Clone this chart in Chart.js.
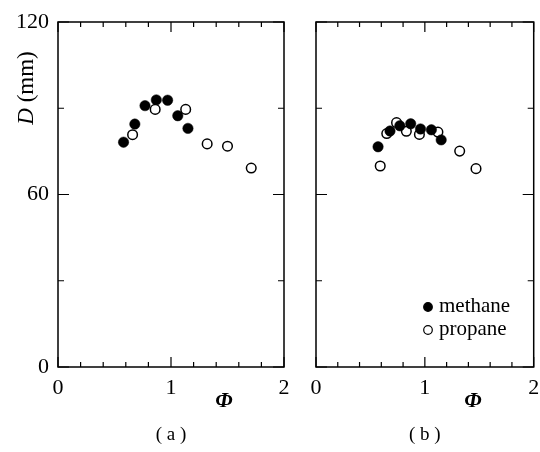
<!DOCTYPE html>
<html>
<head>
<meta charset="utf-8">
<script src="https://cdn.jsdelivr.net/npm/chart.js@4.4.1/dist/chart.umd.min.js"></script>
<style>
body { margin: 0; background: #fff; }
#wrap { position: relative; width: 540px; height: 452px; overflow: hidden; }
canvas { position: absolute; top: 0; }
</style>
</head>
<body>
<div id="wrap">
	<canvas id="chartA" width="300" height="452" style="left:0px"></canvas>
	<canvas id="chartB" width="250" height="452" style="left:290px"></canvas>
</div>
<script>
// panel (a)
var phiMethaneA = [0.58, 0.68, 0.77, 0.87, 0.97, 1.06, 1.15];
var dMethaneA = [78.2, 84.5, 90.9, 92.9, 92.8, 87.4, 83.0];
var phiPropaneA = [0.66, 0.86, 1.13, 1.32, 1.50, 1.71];
var dPropaneA = [80.8, 89.6, 89.6, 77.6, 76.8, 69.2];
// panel (b)
var phiMethaneB = [0.57, 0.68, 0.77, 0.87, 0.96, 1.06, 1.15];
var dMethaneB = [76.6, 82.1, 83.9, 84.6, 82.8, 82.5, 79.0];
var phiPropaneB = [0.59, 0.65, 0.74, 0.83, 0.95, 1.12, 1.32, 1.47];
var dPropaneB = [69.9, 81.2, 85.0, 82.0, 80.9, 81.7, 75.1, 69.0];

var seriesNames = ['methane', 'propane'];
var xTickLabels = ['0', '1', '2'];
var yTickLabels = ['0', '60', '120'];
var panelCaptions = ['( a )', '( b )'];

var serif = "'Liberation Serif', 'Times New Roman', serif";

function toPoints(xs, ys) {
	var pts = [];
	for (var i = 0; i < xs.length; i++) pts.push({ x: xs[i], y: ys[i] });
	return pts;
}

function isWhole(v) {
	return Math.abs(v - Math.round(v)) < 1e-6;
}

function methaneSet(xs, ys, order) {
	return {
		label: seriesNames[0],
		data: toPoints(xs, ys),
		pointStyle: 'circle',
		pointRadius: 5.2,
		backgroundColor: '#000',
		borderColor: '#000',
		borderWidth: 0.5,
		order: order
	};
}
function propaneSet(xs, ys, order) {
	return {
		label: seriesNames[1],
		data: toPoints(xs, ys),
		pointStyle: 'circle',
		pointRadius: 4.8,
		backgroundColor: '#fff',
		borderColor: '#000',
		borderWidth: 1.5,
		order: order
	};
}

// frame + inward ticks on all four sides
var frameTicks = {
	id: 'frameTicks',
	beforeDatasetsDraw: function(chart) {
		var c = chart.ctx, a = chart.chartArea;
		var xs = chart.scales.x, ys = chart.scales.y;
		c.save();
		c.strokeStyle = '#000';
		c.lineWidth = 1.5;
		c.strokeRect(a.left, a.top, a.right - a.left, a.bottom - a.top);
		c.lineWidth = 1.2;
		c.beginPath();
		xs.ticks.forEach(function(t) {
			var px = xs.getPixelForValue(t.value);
			var len = isWhole(t.value) ? 10 : 5;
			c.moveTo(px, a.bottom); c.lineTo(px, a.bottom - len);
			c.moveTo(px, a.top); c.lineTo(px, a.top + len);
		});
		ys.ticks.forEach(function(t) {
			var py = ys.getPixelForValue(t.value);
			var len = (t.value % 60 === 0) ? 11 : 6;
			c.moveTo(a.left, py); c.lineTo(a.left + len, py);
			c.moveTo(a.right, py); c.lineTo(a.right - len, py);
		});
		c.stroke();
		c.restore();
	}
};

// axis titles, captions, legend
var texts = {
	id: 'texts',
	afterDraw: function(chart) {
		var c = chart.ctx, a = chart.chartArea;
		var o = chart.options.plugins.texts;
		c.save();
		c.fillStyle = '#000';
		c.textBaseline = 'middle';
		c.textAlign = 'center';
		// x title
		c.font = 'italic bold 22px ' + serif;
		c.fillText('\u03A6', o.phiX, 401);
		// caption
		c.font = '19px ' + serif;
		c.fillText(o.caption, (a.left + a.right) / 2, 435);
		if (o.yTitle) {
			c.save();
			c.translate(27, 88);
			c.rotate(-Math.PI / 2);
			c.textAlign = 'left';
			c.font = 'italic 23px ' + serif;
			var w1 = c.measureText('D').width;
			c.font = '23px ' + serif;
			var w2 = c.measureText(' (mm)').width;
			var x0 = -(w1 + w2) / 2;
			c.font = 'italic 23px ' + serif;
			c.fillText('D', x0, 0);
			c.font = '23px ' + serif;
			c.fillText(' (mm)', x0 + w1, 0);
			c.restore();
		}
		if (o.legend) {
			var ds = chart.data.datasets;
			for (var i = 0; i < ds.length; i++) {
				var ly = o.legend.y + i * 23;
				c.beginPath();
				c.arc(o.legend.x, ly, 4.3, 0, Math.PI * 2);
				c.fillStyle = ds[i].backgroundColor;
				c.fill();
				c.lineWidth = 1.2;
				c.strokeStyle = '#000';
				c.stroke();
				c.fillStyle = '#000';
				c.textAlign = 'left';
				c.font = '21px ' + serif;
				c.fillText(ds[i].label, o.legend.x + 11, ly - 1);
			}
		}
		c.restore();
	}
};

function buildPanel(id, datasets, yWidth, padRight, showY, textOpts) {
	var ctx = document.getElementById(id).getContext('2d');
	return new Chart(ctx, {
		type: 'scatter',
		data: { datasets: datasets },
		options: {
			responsive: false,
			animation: false,
			layout: { padding: { top: 22, right: padRight, bottom: 0, left: 0 } },
			plugins: {
				legend: { display: false },
				tooltip: { enabled: false },
				texts: textOpts
			},
			scales: {
				x: {
					type: 'linear',
					min: 0, max: 2,
					grid: { display: false, drawTicks: false },
					border: { display: false },
					ticks: {
						stepSize: 0.2,
						padding: 8,
						maxRotation: 0,
						autoSkip: false,
						color: '#000',
						font: { family: serif, size: 22 },
						callback: function(v) {
							return isWhole(v) ? xTickLabels[Math.round(v)] : '';
						}
					},
					afterFit: function(s) {
						s.height = 85;
						s.paddingLeft = 0;
						s.paddingRight = 0;
					}
				},
				y: {
					type: 'linear',
					min: 0, max: 120,
					grid: { display: false, drawTicks: false },
					border: { display: false },
					ticks: {
						stepSize: 30,
						padding: 9,
						display: showY,
						color: '#000',
						font: { family: serif, size: 22 },
						callback: function(v) {
							return v % 60 === 0 ? yTickLabels[v / 60] : '';
						}
					},
					afterFit: function(s) {
						s.width = yWidth;
						s.paddingTop = 0;
						s.paddingBottom = 0;
					}
				}
			}
		},
		plugins: [frameTicks, texts]
	});
}

buildPanel('chartA',
	[methaneSet(phiMethaneA, dMethaneA, 1), propaneSet(phiPropaneA, dPropaneA, 0)],
	58, 16, true,
	{ phiX: 224, caption: panelCaptions[0], yTitle: true });

buildPanel('chartB',
	[methaneSet(phiMethaneB, dMethaneB, 0), propaneSet(phiPropaneB, dPropaneB, 1)],
	26, 1, false,
	{ phiX: 183, caption: panelCaptions[1], yTitle: false, legend: { x: 138, y: 307 } });
</script>
</body>
</html>
